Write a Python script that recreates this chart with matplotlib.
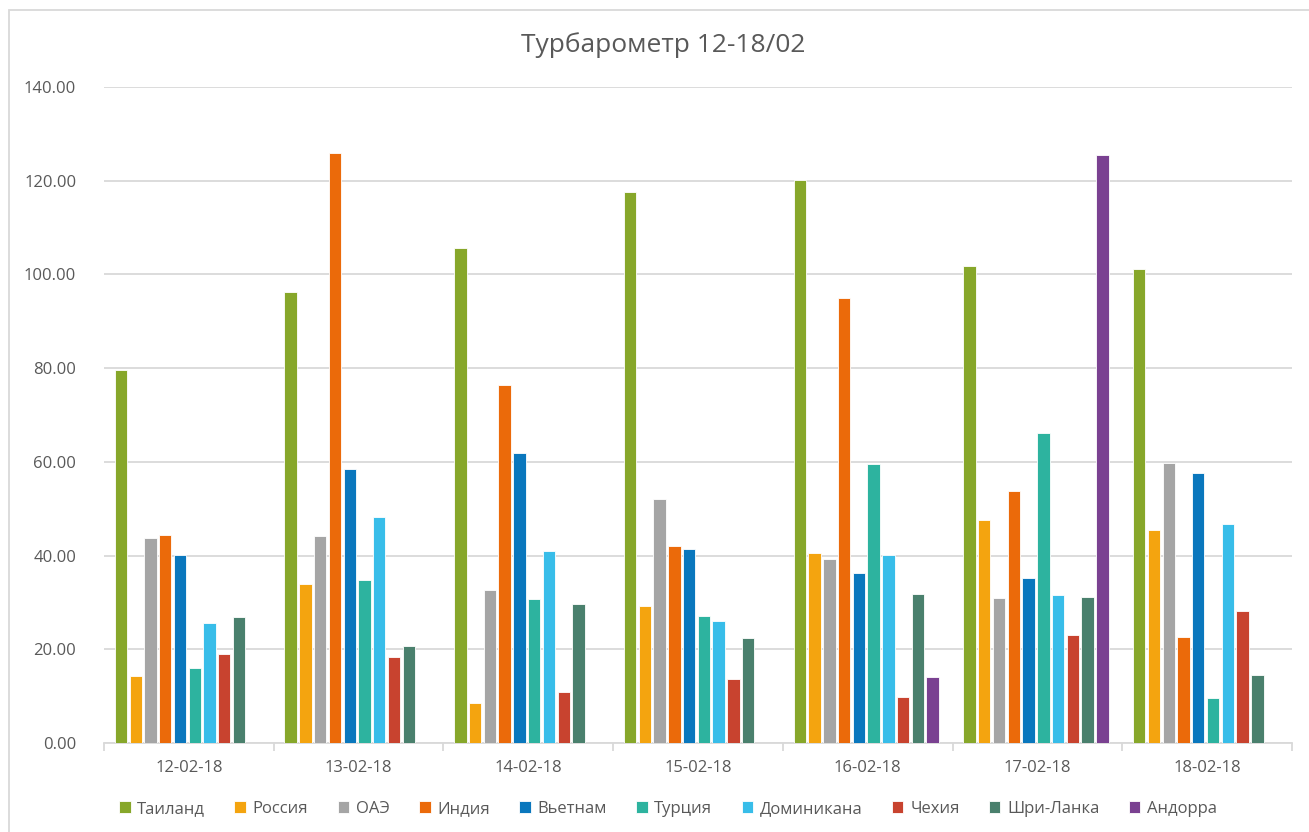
import numpy as np
import matplotlib
matplotlib.use("Agg")
import matplotlib.pyplot as plt
from matplotlib.patches import Rectangle

plt.rcParams['font.family'] = ['Open Sans', 'DejaVu Sans']

dates = ["12-02-18", "13-02-18", "14-02-18", "15-02-18", "16-02-18", "17-02-18", "18-02-18"]
countries = ["Таиланд", "Россия", "ОАЭ", "Индия", "Вьетнам", "Турция",
             "Доминикана", "Чехия", "Шри-Ланка", "Андорра"]
colors = ["#87A72A", "#F4A40F", "#A5A5A5", "#EB6A0A", "#0A77BD", "#2DB39F",
          "#38BDE9", "#C8432F", "#4A806D", "#7A4191"]

thailand = [79.6, 96.2, 105.6, 117.6, 120.1, 101.8, 101.2]
russia = [14.3, 33.9, 8.5, 29.2, 40.5, 47.6, 45.5]
uae = [43.7, 44.2, 32.6, 52.1, 39.3, 30.9, 59.8]
india = [44.4, 125.9, 76.4, 42.0, 95.0, 53.8, 22.6]
vietnam = [40.1, 58.5, 61.9, 41.4, 36.3, 35.2, 57.6]
turkey = [16.0, 34.8, 30.7, 27.1, 59.5, 66.2, 9.6]
dominicana = [25.6, 48.2, 41.0, 26.0, 40.1, 31.6, 46.7]
czech = [19.0, 18.4, 10.9, 13.7, 9.8, 23.0, 28.2]
srilanka = [26.9, 20.7, 29.7, 22.4, 31.8, 31.2, 14.5]
andorra = [0, 0, 0, 0, 14.1, 125.5, 0]

series = [thailand, russia, uae, india, vietnam, turkey, dominicana, czech, srilanka, andorra]

text_color = "#595959"
fig = plt.figure(figsize=(13.09, 8.32), dpi=100)
ax = fig.add_axes([104 / 1309, 1 - 743 / 832, (1292 - 104) / 1309, (743 - 87) / 832])

x = np.arange(len(dates))
stride = 0.087
width = 0.073
for i, (name, vals, c) in enumerate(zip(countries, series, colors)):
    ax.bar(x + (i - 4.6) * stride, vals, width=width, color=c, label=name,
           edgecolor="white", linewidth=0.6, zorder=3)

ax.set_xlim(-0.5, len(dates) - 0.5)
ax.set_ylim(0, 140)
ax.set_yticks(np.arange(0, 141, 20))
ax.set_yticklabels([f"{v:.2f}" for v in np.arange(0, 141, 20)])
ax.yaxis.grid(True, color="#D9D9D9", linewidth=1.3, zorder=0)
ax.set_xticks(x)
ax.set_xticklabels(dates)
ax.set_xticks(np.arange(-0.5, len(dates), 1), minor=True)
ax.tick_params(axis="x", which="major", length=0, pad=12, labelsize=12, colors=text_color)
ax.tick_params(axis="x", which="minor", length=6, color="#D9D9D9", width=1.3)
ax.tick_params(axis="y", length=0, pad=20, labelsize=12, colors=text_color)
for s in ["top", "right", "left"]:
    ax.spines[s].set_visible(False)
ax.spines["bottom"].set_color("#D9D9D9")
ax.spines["bottom"].set_linewidth(1.3)

fig.text(663 / 1309, 1 - 45 / 832, "Турбарометр 12-18/02", ha="center", va="center",
         fontsize=19, color=text_color)

fig.legend(loc="center", bbox_to_anchor=(668 / 1309, 1 - 809 / 832), ncol=10,
           frameon=False, fontsize=12, handlelength=0.7, handleheight=0.7,
           handletextpad=0.4, columnspacing=1.75, labelcolor=text_color)

fig.patches.append(Rectangle((9 / 1309, -0.01), 1.02, 1 - 10 / 832 + 0.01,
                             transform=fig.transFigure, fill=False,
                             edgecolor="#D9D9D9", linewidth=1.3))

fig.savefig("out.png", dpi=100)
